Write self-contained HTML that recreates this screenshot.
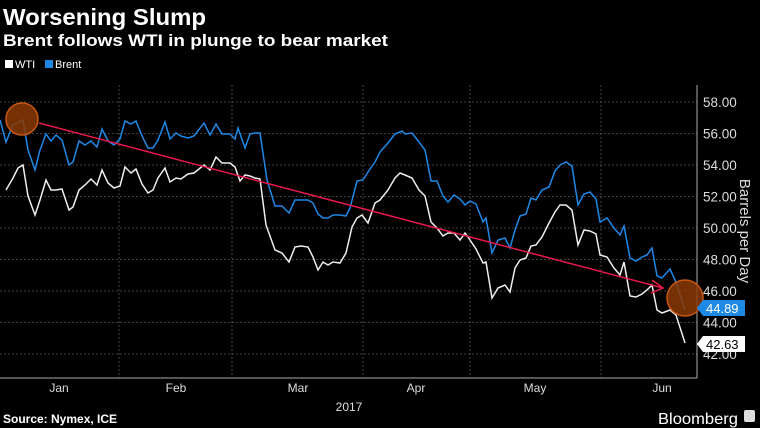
<!DOCTYPE html>
<html><head><meta charset="utf-8"><style>
body{margin:0;background:#000;width:760px;height:428px;overflow:hidden}
svg{display:block}
text{font-family:"Liberation Sans",sans-serif}
</style></head><body>
<svg width="760" height="428" viewBox="0 0 760 428">
<rect width="760" height="428" fill="#000"/>
<text x="3" y="25" fill="#fff" font-size="23" font-weight="bold" textLength="203" lengthAdjust="spacingAndGlyphs">Worsening Slump</text>
<text x="3" y="46" fill="#fff" font-size="17" font-weight="bold" textLength="385" lengthAdjust="spacingAndGlyphs">Brent follows WTI in plunge to bear market</text>
<rect x="5" y="60" width="8" height="8" fill="#fff"/>
<text x="15" y="68" fill="#fff" font-size="11">WTI</text>
<rect x="45" y="60" width="8" height="8" fill="#1e88e5"/>
<text x="55" y="68" fill="#fff" font-size="11">Brent</text>
<g stroke="#555" stroke-width="0.8" stroke-dasharray="2,2">
<line x1="0" y1="102" x2="697" y2="102"/><line x1="0" y1="133.5" x2="697" y2="133.5"/><line x1="0" y1="165" x2="697" y2="165"/><line x1="0" y1="196.5" x2="697" y2="196.5"/><line x1="0" y1="228" x2="697" y2="228"/><line x1="0" y1="259.5" x2="697" y2="259.5"/><line x1="0" y1="291" x2="697" y2="291"/><line x1="0" y1="322.5" x2="697" y2="322.5"/><line x1="0" y1="354" x2="697" y2="354"/>
<line x1="119" y1="85" x2="119" y2="378"/><line x1="232" y1="85" x2="232" y2="378"/><line x1="363" y1="85" x2="363" y2="378"/><line x1="470" y1="85" x2="470" y2="378"/><line x1="601" y1="85" x2="601" y2="378"/>
</g>
<line x1="697" y1="85" x2="697" y2="378" stroke="#aaa" stroke-width="1"/>
<line x1="0" y1="378" x2="697" y2="378" stroke="#aaa" stroke-width="1"/>
<g fill="#ddd" font-size="13.5">
<text x="703" y="107">58.00</text><text x="703" y="138.5">56.00</text><text x="703" y="170">54.00</text><text x="703" y="201.5">52.00</text><text x="703" y="233">50.00</text><text x="703" y="264.5">48.00</text><text x="703" y="296">46.00</text><text x="703" y="327.5">44.00</text><text x="703" y="359">42.00</text>
</g>
<text transform="translate(740,231) rotate(90)" fill="#ddd" font-size="15" text-anchor="middle">Barrels per Day</text>
<g fill="#ddd" font-size="12" text-anchor="middle">
<text x="59" y="392">Jan</text><text x="176" y="392">Feb</text><text x="298" y="392">Mar</text><text x="416" y="392">Apr</text><text x="535" y="392">May</text><text x="662" y="392">Jun</text><text x="349" y="411">2017</text>
</g>
<text x="3" y="423" fill="#fff" font-size="12" font-weight="bold">Source: Nymex, ICE</text>
<text x="658" y="424" fill="#fff" font-size="16" textLength="80" lengthAdjust="spacingAndGlyphs">Bloomberg</text>
<rect x="744" y="410" width="11" height="12" rx="2" fill="#ddd"/>
<polyline fill="none" stroke="#1e88e5" stroke-width="1.5" points="0,120 6,142 13,125 23,120 28,150 35,170 40,150 46,134 51,141 56,135 62,140 69,165 73,162 79,141 85,145 91,141 97,147 102,129 108,141 114,145 120,139 125,121 131,124 136,121 142,136 148,148 153,148 158,140 165,122 170,139 176,133 181,136 188,138 194,136 204,123 210,135 216,124 222,134 230,134 235,139 238,128 245,148 250,134 255,133 260,133 267,180 275,206 282,206 289,213 295,200 301,200 308,200 313,203 318,214 323,218 328,218 333,215 340,215 346,216 350,208 357,181 363,180 368,172 375,162 380,152 388,143 395,134 402,131 405,134 412,133 419,142 425,150 431,181 437,181 443,196 448,202 454,195 460,199 465,205 470,201 476,204 483,222 486,218 492,253 498,240 505,238 510,248 515,230 520,216 526,214 531,198 536,200 542,190 549,187 555,171 560,165 566,162 572,166 578,205 584,194 590,192 596,199 600,222 607,218 614,228 620,235 624,226 630,258 636,261 642,257 647,255 652,248 657,276 662,278 670,269 676,282 685,310"/>
<polyline fill="none" stroke="#eee" stroke-width="1.5" points="6,190 13,178 18,168 23,165 28,196 35,215 40,200 46,180 51,190 56,190 62,189 69,210 73,207 79,190 85,185 91,179 97,185 102,170 108,183 114,188 120,186 125,167 131,173 136,169 142,184 148,193 153,190 158,178 165,168 170,182 176,178 181,179 188,174 194,173 204,165 210,170 216,157 222,163 230,163 235,167 240,181 245,175 250,176 255,178 260,179 266,225 275,250 282,253 289,262 295,247 301,246 308,247 313,257 318,270 323,262 328,265 333,262 340,263 346,253 352,227 357,218 362,215 368,223 375,203 380,200 388,190 395,178 400,173 405,175 412,178 419,190 425,196 431,222 437,228 443,236 448,233 454,233 460,240 465,233 470,240 476,249 483,263 486,262 492,298 498,288 505,285 510,292 515,268 520,260 526,258 531,246 536,245 542,237 549,223 555,212 560,205 566,205 572,210 578,245 584,230 590,231 596,234 600,255 607,257 614,268 620,275 624,262 630,296 636,297 642,294 647,290 652,285 657,310 662,313 670,310 676,315 685,343"/>
<line x1="39" y1="123" x2="663" y2="288" stroke="#e8194a" stroke-width="1.5"/>
<polyline points="652,280 663,288 651,293" fill="none" stroke="#e8194a" stroke-width="1.5"/>
<circle cx="22" cy="119" r="16" fill="#8a3a05" fill-opacity="0.85" stroke="#c8560f" stroke-width="1.5"/>
<circle cx="685" cy="298" r="18" fill="#8a3a05" fill-opacity="0.85" stroke="#c8560f" stroke-width="1.5"/>
<polygon points="697,308 703,300 745,300 745,316 703,316" fill="#1e88e5"/>
<text x="706" y="313" fill="#fff" font-size="13">44.89</text>
<polygon points="697,344 703,336 745,336 745,352 703,352" fill="#fff"/>
<text x="706" y="349" fill="#000" font-size="13">42.63</text>
</svg>
</body></html>
